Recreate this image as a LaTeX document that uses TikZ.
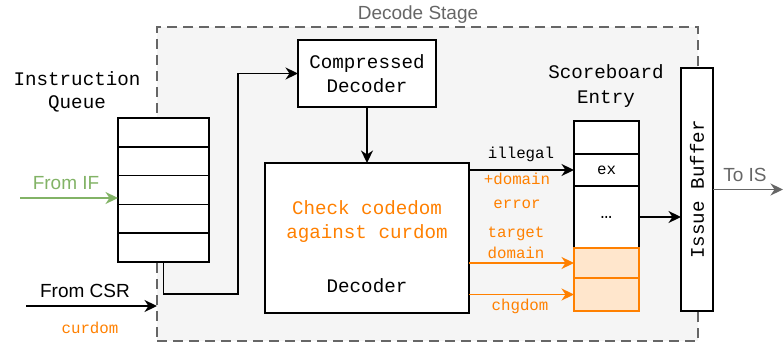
\documentclass[tikz,border=0pt]{standalone}
\usepackage{fontspec}
\setmainfont{Liberation Sans}
\setmonofont{Liberation Mono}
\usetikzlibrary{arrows.meta}
\definecolor{dorange}{HTML}{FF8000}
\definecolor{lorange}{HTML}{FFE6CC}
\definecolor{dgreen}{HTML}{82B366}
\definecolor{dgray}{HTML}{666666}
\definecolor{bgray}{HTML}{F5F5F5}
\begin{document}
\begin{tikzpicture}[x=1pt,y=-1pt, line width=1.5pt,
  box/.style={draw=black, fill=white, rectangle, inner sep=0pt, outer sep=0pt},
  obox/.style={draw=dorange, fill=lorange, rectangle, inner sep=0pt, outer sep=0pt},
  mono/.style={font=\ttfamily\fontsize{19.2}{24}\selectfont},
  small/.style={font=\ttfamily\fontsize{15.8}{20}\selectfont},
  sans/.style={font=\fontsize{19}{23}\selectfont},
  arr/.style={-{Stealth[length=12.5pt,width=12pt,inset=4pt]}},
  lbl/.style={anchor=base, inner sep=0pt}
]
\useasboundingbox (0,0) rectangle (784,345);
% stage area
\node[draw=dgray, fill=bgray, dash pattern=on 10pt off 6pt, rectangle,
      minimum width=541pt, minimum height=314pt, inner sep=0pt, outer sep=0pt] (stage) at (427.5,184) {};
\node[lbl, sans, text=dgray] (stagelbl) at (418,20) {Decode Stage};

% instruction queue
\node[lbl, mono] (iq1) at (77,85) {Instruction};
\node[lbl, mono] (iq2) at (77,108) {Queue};
\foreach \i/\y in {1/132.4, 2/161.2, 3/190.0, 4/218.8, 5/247.6}
  \node[box, minimum width=91pt, minimum height=28.8pt] (q\i) at (163.5,\y) {};

% compressed decoder
\node[box, mono, align=center, minimum width=138pt, minimum height=67pt] (comp) at (367,73.5)
  {Compressed\\Decoder};

% decoder
\node[box, minimum width=204pt, minimum height=150pt] (dec) at (367,238) {};
\node[lbl, mono, text=dorange] (chk1) at (367,214) {Check codedom};
\node[lbl, mono, text=dorange] (chk2) at (367,238) {against curdom};
\node[lbl, mono] (declbl) at (367,292) {Decoder};

% scoreboard entry
\node[lbl, mono] (sb1) at (606,78) {Scoreboard};
\node[lbl, mono] (sb2) at (606,103) {Entry};
\node[box, minimum width=65pt, minimum height=33pt] (s1) at (606.5,137.5) {};
\node[box, small, minimum width=65pt, minimum height=32pt] (s2) at (606.5,170) {ex};
\node[box, mono, minimum width=65pt, minimum height=62pt] (s3) at (606.5,217) {…};
\node[obox, minimum width=65pt, minimum height=30pt] (s4) at (606.5,263) {};
\node[obox, minimum width=65pt, minimum height=33pt] (s5) at (606.5,294.5) {};

% issue buffer
\node[box, minimum width=32pt, minimum height=243pt] (ib) at (697,189.5) {};
\node[mono, rotate=90, inner sep=0pt] (iblbl) at (697,189.5) {Issue Buffer};

% inputs
\coordinate (fromif) at (20,198);
\draw[arr, draw=dgreen] (fromif) -- (fromif -| q3.west);
\node[lbl, sans, text=dgreen] (iflbl) at (66,189) {From IF};
\coordinate (fromcsr) at (26,306);
\draw[arr] (fromcsr) -- (fromcsr -| stage.west);
\node[lbl, sans] (csrlbl) at (85,297) {From CSR};
\node[lbl, small, text=dorange] (curlbl) at (90,333) {curdom};

% queue -> compressed decoder
\coordinate (bend) at (238,294);
\draw[arr] (q5.south) |- (bend) |- (comp.west);
\draw[arr] (comp.south) -- (dec.north);

% decoder -> scoreboard
\draw[arr] (s2.west -| dec.east) -- (s2.west);
\node[lbl, small] (ill) at (521,158) {illegal};
\node[lbl, small, text=dorange] (pd) at (517,184) {+domain};
\node[lbl, small, text=dorange] (err) at (517,208) {error};
\draw[arr, draw=dorange] (s4.west -| dec.east) -- (s4.west);
\node[lbl, small, text=dorange] (tg) at (516,237) {target};
\node[lbl, small, text=dorange] (dm) at (516,258) {domain};
\draw[arr, draw=dorange] (s5.west -| dec.east) -- (s5.west);
\node[lbl, small, text=dorange] (cg) at (520,310) {chgdom};

% scoreboard -> issue buffer -> IS
\draw[arr] (s3.east) -- (s3.east -| ib.west);
\coordinate (tois) at (783,189.5);
\draw[arr, draw=dgray] (ib.east) -- (tois);
\node[lbl, sans, text=dgray] (islbl) at (745,181) {To IS};
\end{tikzpicture}
\end{document}
